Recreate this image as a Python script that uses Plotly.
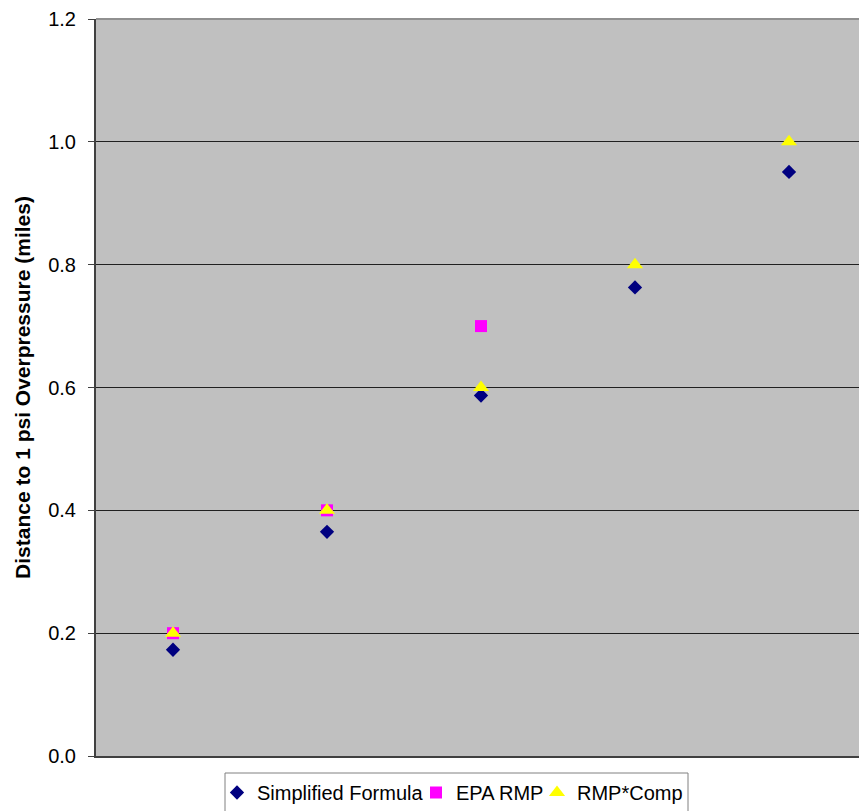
import plotly.graph_objects as go

# Five cases along the x axis (no labels shown on the axis)
cases = [1, 2, 3, 4, 5]

# Distance to 1 psi overpressure, miles
simplified_formula = [0.173, 0.365, 0.587, 0.763, 0.951]
epa_rmp = [0.2, 0.4, 0.7, None, None]
rmp_comp = [0.2, 0.4, 0.6, 0.8, 1.0]

y_ticks = [0.0, 0.2, 0.4, 0.6, 0.8, 1.0, 1.2]
y_tick_text = ["0.0", "0.2", "0.4", "0.6", "0.8", "1.0", "1.2"]

font_family = "Liberation Sans, Arial, sans-serif"

fig = go.Figure()
fig.add_trace(go.Scatter(
    x=cases, y=simplified_formula, mode="markers", name="Simplified Formula",
    marker=dict(symbol="diamond", size=11, color="#000080", line=dict(width=0)),
    legend="legend",
))
fig.add_trace(go.Scatter(
    x=cases, y=epa_rmp, mode="markers", name="EPA RMP",
    marker=dict(symbol="square", size=12, color="#FF00FF", line=dict(width=0)),
    legend="legend2",
))
fig.add_trace(go.Scatter(
    x=cases, y=rmp_comp, mode="markers", name="RMP*Comp",
    marker=dict(symbol="triangle-up", size=14, color="#FFFF00", line=dict(width=0)),
    legend="legend3",
))

# plot area spans 96..859 px horizontally, 19..756 px vertically
PLOT_L, PLOT_R, PLOT_T, PLOT_B = 96, 859, 19, 756


def px_x(px):
    return (px - PLOT_L) / (PLOT_R - PLOT_L)


def px_y(py):
    return (PLOT_B - py) / (PLOT_B - PLOT_T)


legend_common = dict(
    orientation="h",
    xanchor="left",
    y=px_y(773), yanchor="top",
    bgcolor="rgba(0,0,0,0)",
    borderwidth=0,
    font=dict(family=font_family, size=20, color="black"),
    itemwidth=30,
)

fig.update_layout(
    width=859, height=811,
    margin=dict(l=PLOT_L, r=859 - PLOT_R, t=PLOT_T, b=811 - PLOT_B, autoexpand=False),
    paper_bgcolor="white",
    plot_bgcolor="#C0C0C0",
    font=dict(family=font_family, size=20, color="black"),
    showlegend=True,
    legend=dict(x=px_x(217), **legend_common),
    legend2=dict(x=px_x(416), **legend_common),
    legend3=dict(x=px_x(537), **legend_common),
    xaxis=dict(
        range=[0.5, 5.4545],
        showticklabels=False,
        ticks="",
        showgrid=False,
        zeroline=False,
        showline=True,
        linecolor="#404040",
        linewidth=2,
    ),
    yaxis=dict(
        range=[0, 1.2],
        tickvals=y_ticks,
        ticktext=y_tick_text,
        ticks="outside",
        ticklen=6,
        tickcolor="#404040",
        tickwidth=1,
        ticklabelstandoff=8,
        showgrid=True,
        gridcolor="#202020",
        gridwidth=1,
        zeroline=False,
        showline=True,
        linecolor="#404040",
        linewidth=2,
        title=dict(
            text="<b>Distance to 1 psi Overpressure (miles)</b>",
            font=dict(size=21),
            standoff=12,
        ),
    ),
)

# grey frame along the top of the plotting area
fig.add_shape(type="line", xref="paper", yref="paper", x0=0, x1=1, y0=1, y1=1,
              line=dict(color="#909090", width=2))

# white box framing the three legend entries
fig.add_shape(type="rect", xref="paper", yref="paper",
              x0=px_x(225), x1=px_x(688), y0=px_y(773), y1=px_y(840),
              fillcolor="white", line=dict(color="#808080", width=1), layer="above")

fig.write_html("out.html")
